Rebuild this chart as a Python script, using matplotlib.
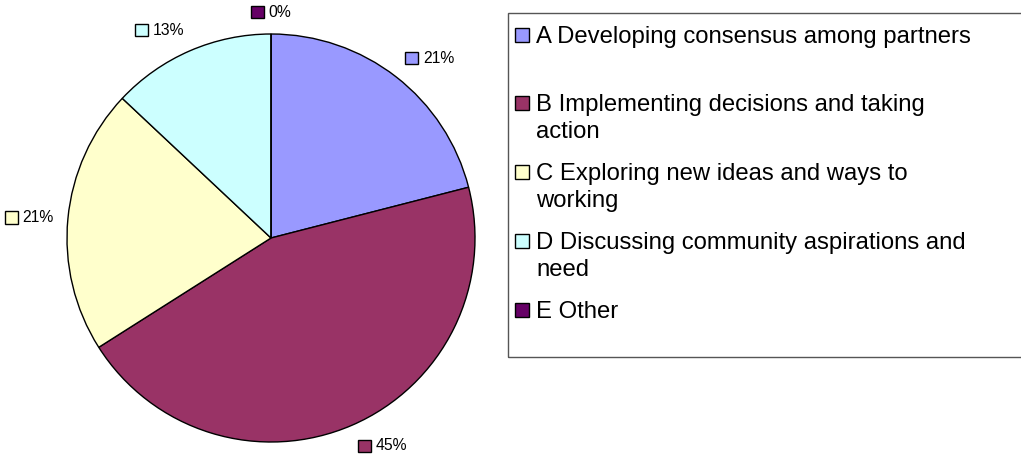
import numpy as np
import matplotlib
matplotlib.use("Agg")
import matplotlib.pyplot as plt
from matplotlib.patches import Rectangle
from matplotlib.offsetbox import HPacker, DrawingArea, TextArea, AnnotationBbox

categories = ["A Developing consensus among partners",
              "B Implementing decisions and taking\naction",
              "C Exploring new ideas and ways to\nworking",
              "D Discussing community aspirations and\nneed",
              "E Other"]
values = [21, 45, 21, 13, 0]
pct_labels = ["21%", "45%", "21%", "13%", "0%"]
colors = ["#9999FF", "#993366", "#FFFFCC", "#CCFFFF", "#660066"]

plt.rcParams['font.family'] = ['Liberation Sans', 'DejaVu Sans']

W, H = 1021, 455
fig = plt.figure(figsize=(W / 100, H / 100), dpi=100)

# pie geometry in pixels
cx, cy, R = 271, 238, 204
axw = 507
ax = fig.add_axes([0, 0, axw / W, 1])

wedges, _ = ax.pie(values, colors=colors, startangle=90, counterclock=False,
                   radius=1.0, wedgeprops=dict(edgecolor='black', linewidth=1.0))
ax.set_aspect('auto')
ax.set_xlim(-cx / R, (axw - cx) / R)
ax.set_ylim(-(H - cy) / R, cy / R)
ax.axis('off')

total = sum(values)
cum = 0
lab_fs = 11.3
for v, lab, col in zip(values, pct_labels, colors):
    mid = 90 - (cum + v / 2) / total * 360
    cum += v
    a = np.deg2rad(mid)
    c, s = np.cos(a), np.sin(a)
    px, py = 1.07 * c, 1.07 * s
    hx = 0.0 if c > 0.1 else (1.0 if c < -0.1 else 0.5)
    vy = 0.0 if s > 0.1 else (1.0 if s < -0.1 else 0.5)
    da = DrawingArea(10, 10, 0, 0)
    da.add_artist(Rectangle((0.5, 0.5), 9, 9, facecolor=col, edgecolor='black', lw=1.0))
    ta = TextArea(lab, textprops=dict(fontsize=lab_fs, color='black'))
    box = HPacker(children=[da, ta], align='center', pad=0, sep=3)
    ab = AnnotationBbox(box, (px, py), xycoords='data', box_alignment=(hx, vy),
                        frameon=False, pad=0)
    ax.add_artist(ab)

# legend drawn manually
def fx(x):
    return x / W

def fy(y):
    return 1 - y / H

leg_left, leg_top, leg_bottom = 507.5, 12.5, 356.5
fig.patches.append(Rectangle((fx(leg_left), fy(leg_bottom)), fx(W + 5 - leg_left),
                             fy(leg_top) - fy(leg_bottom), transform=fig.transFigure,
                             facecolor='none', edgecolor='#555555', lw=1.0))
leg_fs = 17.2
base0, step, line_h = 42.5, 68.9, 27.0
for i, (cat, col) in enumerate(zip(categories, colors)):
    b = base0 + step * i
    fig.patches.append(Rectangle((fx(515), fy(b - 1)), 14 / W, 14 / H,
                                 transform=fig.transFigure, facecolor=col,
                                 edgecolor='black', lw=1.0))
    for j, line in enumerate(cat.split("\n")):
        fig.text(fx(536), fy(b + j * line_h), line, fontsize=leg_fs,
                 va='baseline', ha='left', color='black')

fig.savefig("out.png", dpi=100)
